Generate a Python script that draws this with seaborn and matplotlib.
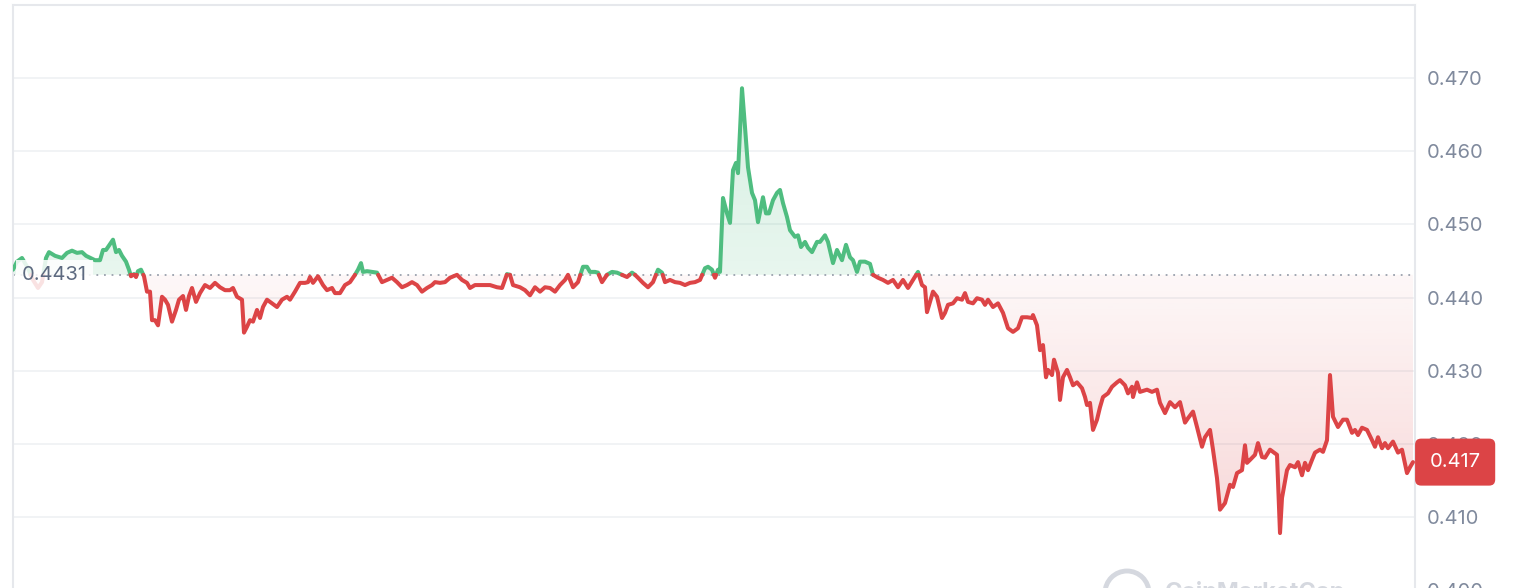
import numpy as np
import pandas as pd
import seaborn as sns
import matplotlib.pyplot as plt
import matplotlib.transforms as mtransforms
from matplotlib.patches import Ellipse

# minutes from the left edge of the chart, and price in USD
minutes = [
    0, 4, 9, 15, 20, 25, 29, 33, 36, 42, 49, 54, 59, 64, 69, 73, 82, 87, 90, 93,
    97, 100, 103, 106, 109, 113, 116, 118, 121, 123, 125, 128, 131, 134, 137, 139, 142, 145, 149, 152,
    155, 159, 163, 166, 170, 173, 176, 179, 183, 187, 192, 197, 202, 207, 212, 217, 220, 224, 229, 231,
    234, 237, 240, 244, 247, 250, 254, 259, 264, 269, 274, 277, 282, 287, 292, 295, 297, 300, 305, 310,
    314, 319, 322, 327, 332, 337, 342, 345, 348, 350, 354, 359, 364, 369, 374, 379, 384, 389, 394, 399,
    404, 409, 414, 419, 422, 427, 432, 437, 444, 449, 454, 457, 462, 467, 472, 477, 484, 489, 494, 497,
    500, 507, 512, 517, 522, 527, 532, 537, 542, 547, 552, 555, 560, 565, 570, 574, 577, 582, 585, 589,
    594, 599, 604, 609, 614, 619, 622, 625, 630, 635, 640, 645, 649, 652, 657, 662, 667, 672, 677, 682,
    687, 692, 695, 699, 702, 705, 707, 710, 714, 717, 720, 723, 725, 729, 732, 735, 739, 742, 745, 750,
    753, 756, 760, 764, 767, 770, 774, 777, 782, 785, 788, 792, 795, 799, 804, 807, 812, 815, 820, 824,
    829, 833, 837, 840, 844, 847, 852, 857, 860, 865, 870, 875, 880, 885, 890, 895, 900, 905, 909, 912,
    914, 917, 920, 924, 929, 932, 935, 940, 944, 949, 952, 955, 960, 964, 969, 972, 975, 980, 985, 990,
    995, 1000, 1005, 1009, 1014, 1019, 1020, 1024, 1027, 1030, 1033, 1035, 1039, 1041, 1045, 1047, 1050, 1054, 1057, 1060,
    1064, 1069, 1072, 1074, 1077, 1080, 1084, 1087, 1090, 1095, 1099, 1104, 1107, 1112, 1115, 1119, 1120, 1124, 1127, 1134,
    1139, 1144, 1147, 1152, 1157, 1162, 1167, 1172, 1175, 1180, 1184, 1189, 1192, 1197, 1200, 1204, 1207, 1212, 1217, 1220,
    1224, 1229, 1232, 1234, 1237, 1242, 1245, 1249, 1252, 1257, 1260, 1264, 1267, 1269, 1274, 1277, 1282, 1285, 1289, 1292,
    1295, 1299, 1302, 1307, 1310, 1314, 1317, 1320, 1325, 1330, 1334, 1339, 1342, 1345, 1349, 1354, 1359, 1362, 1365, 1369,
    1372, 1375, 1380, 1385, 1389, 1394, 1397, 1400,
]
prices = [
    0.4438, 0.4449, 0.4454, 0.4440, 0.4424, 0.4413, 0.4421, 0.4454, 0.4462, 0.4457, 0.4454, 0.4461, 0.4464, 0.4461, 0.4462, 0.4457, 0.4451, 0.4451, 0.4465, 0.4465,
    0.4473, 0.4479, 0.4462, 0.4465, 0.4457, 0.4449, 0.4438, 0.4429, 0.4432, 0.4428, 0.4436, 0.4438, 0.4429, 0.4408, 0.4408, 0.4369, 0.4369, 0.4362, 0.4401, 0.4397,
    0.4390, 0.4367, 0.4383, 0.4397, 0.4402, 0.4383, 0.4402, 0.4413, 0.4394, 0.4406, 0.4417, 0.4413, 0.4420, 0.4414, 0.4410, 0.4410, 0.4413, 0.4401, 0.4397, 0.4352,
    0.4360, 0.4369, 0.4367, 0.4383, 0.4372, 0.4387, 0.4397, 0.4392, 0.4387, 0.4397, 0.4401, 0.4397, 0.4408, 0.4420, 0.4420, 0.4421, 0.4428, 0.4420, 0.4429, 0.4417,
    0.4410, 0.4413, 0.4406, 0.4406, 0.4417, 0.4421, 0.4431, 0.4438, 0.4447, 0.4435, 0.4436, 0.4435, 0.4434, 0.4421, 0.4424, 0.4427, 0.4421, 0.4414, 0.4417, 0.4421,
    0.4417, 0.4408, 0.4413, 0.4417, 0.4421, 0.4420, 0.4421, 0.4427, 0.4431, 0.4424, 0.4420, 0.4413, 0.4417, 0.4417, 0.4417, 0.4417, 0.4414, 0.4413, 0.4432, 0.4431,
    0.4417, 0.4414, 0.4410, 0.4403, 0.4414, 0.4408, 0.4414, 0.4413, 0.4408, 0.4417, 0.4424, 0.4431, 0.4414, 0.4421, 0.4442, 0.4442, 0.4435, 0.4435, 0.4434, 0.4421,
    0.4431, 0.4435, 0.4434, 0.4431, 0.4428, 0.4434, 0.4431, 0.4427, 0.4420, 0.4414, 0.4421, 0.4438, 0.4434, 0.4421, 0.4424, 0.4421, 0.4420, 0.4417, 0.4420, 0.4421,
    0.4424, 0.4440, 0.4442, 0.4438, 0.4427, 0.4438, 0.4435, 0.4536, 0.4515, 0.4502, 0.4574, 0.4584, 0.4570, 0.4686, 0.4633, 0.4578, 0.4543, 0.4533, 0.4503, 0.4537,
    0.4515, 0.4515, 0.4533, 0.4543, 0.4547, 0.4529, 0.4510, 0.4492, 0.4483, 0.4485, 0.4469, 0.4476, 0.4468, 0.4462, 0.4476, 0.4476, 0.4485, 0.4476, 0.4447, 0.4465,
    0.4451, 0.4472, 0.4455, 0.4451, 0.4435, 0.4449, 0.4449, 0.4446, 0.4431, 0.4427, 0.4424, 0.4420, 0.4424, 0.4414, 0.4424, 0.4413, 0.4424, 0.4435, 0.4417, 0.4414,
    0.4380, 0.4394, 0.4408, 0.4401, 0.4372, 0.4379, 0.4390, 0.4392, 0.4399, 0.4397, 0.4406, 0.4394, 0.4392, 0.4399, 0.4397, 0.4390, 0.4397, 0.4387, 0.4392, 0.4379,
    0.4358, 0.4353, 0.4358, 0.4373, 0.4373, 0.4372, 0.4376, 0.4362, 0.4328, 0.4335, 0.4291, 0.4301, 0.4294, 0.4315, 0.4297, 0.4260, 0.4291, 0.4301, 0.4291, 0.4280,
    0.4284, 0.4276, 0.4264, 0.4253, 0.4256, 0.4219, 0.4233, 0.4250, 0.4264, 0.4269, 0.4278, 0.4284, 0.4287, 0.4280, 0.4269, 0.4278, 0.4264, 0.4284, 0.4271, 0.4274,
    0.4271, 0.4274, 0.4256, 0.4242, 0.4257, 0.4250, 0.4257, 0.4229, 0.4235, 0.4244, 0.4223, 0.4196, 0.4209, 0.4219, 0.4192, 0.4153, 0.4110, 0.4119, 0.4144, 0.4141,
    0.4160, 0.4164, 0.4198, 0.4174, 0.4178, 0.4185, 0.4201, 0.4182, 0.4181, 0.4192, 0.4189, 0.4185, 0.4078, 0.4126, 0.4164, 0.4171, 0.4168, 0.4175, 0.4157, 0.4174,
    0.4164, 0.4178, 0.4188, 0.4192, 0.4189, 0.4205, 0.4294, 0.4237, 0.4223, 0.4233, 0.4233, 0.4215, 0.4219, 0.4212, 0.4222, 0.4219, 0.4205, 0.4196, 0.4209, 0.4194,
    0.4201, 0.4194, 0.4203, 0.4188, 0.4192, 0.4160, 0.4168, 0.4175,
]
open_price = 0.4431
last_label = "0.417"
y_ticks = [0.400, 0.410, 0.420, 0.430, 0.440, 0.450, 0.460, 0.470]

GREEN = "#4fbd80"
RED = "#dc4446"

# split the series into runs above / below the opening price,
# adding the crossing point to both neighbouring runs
rows = []
seg = 0
prev_side = "up" if prices[0] > open_price else "down"
rows.append((minutes[0], prices[0], seg, prev_side))
for i in range(1, len(prices)):
    side = "up" if prices[i] > open_price else "down"
    if side != prev_side:
        t0, t1, p0, p1 = minutes[i - 1], minutes[i], prices[i - 1], prices[i]
        tc = t0 + (open_price - p0) * (t1 - t0) / (p1 - p0)
        rows.append((tc, open_price, seg, prev_side))
        seg += 1
        rows.append((tc, open_price, seg, side))
    rows.append((minutes[i], prices[i], seg, side))
    prev_side = side
df = pd.DataFrame(rows, columns=["t", "price", "seg", "side"])

sns.set_theme(style="white")
plt.rcParams["font.family"] = ["Inter", "DejaVu Sans"]

fig = plt.figure(figsize=(15.26, 5.88), dpi=100)
ax = fig.add_axes([13 / 1526, -20 / 588, 1402 / 1526, 603 / 588])

x_max = 1402
y_lo, y_hi = 0.39756, 0.47998

# gradient fills clipped to the area between the line and the open price
tt = df["t"].to_numpy()
pp = df["price"].to_numpy()
up_poly = ax.fill_between(tt, open_price, np.maximum(pp, open_price), color="none", lw=0)
dn_poly = ax.fill_between(tt, open_price, np.minimum(pp, open_price), color="none", lw=0)

n = 256
g = np.zeros((n, 1, 4))
g[..., :3] = np.array([0x4f, 0xbd, 0x80]) / 255
g[:, 0, 3] = np.linspace(0.28, 0.13, n)
img = ax.imshow(g, extent=[0, x_max, open_price, y_hi], aspect="auto", zorder=1)
img.set_clip_path(up_poly.get_paths()[0], transform=ax.transData)

r = np.zeros((n, 1, 4))
r[..., :3] = np.array([0xdc, 0x44, 0x46]) / 255
r[:, 0, 3] = np.linspace(0.04, 0.26, n)
img2 = ax.imshow(r, extent=[0, x_max, y_lo, open_price], aspect="auto", zorder=1)
img2.set_clip_path(dn_poly.get_paths()[0], transform=ax.transData)

ax.axhline(open_price, color="#9aa1ad", lw=1.3, ls=(0, (1, 3.2)), zorder=2)

sns.lineplot(data=df, x="t", y="price", hue="side", units="seg", estimator=None,
             sort=False, palette={"up": GREEN, "down": RED}, linewidth=2.9,
             legend=False, ax=ax, zorder=3)

ax.set_xlim(0, x_max)
ax.set_ylim(y_lo, y_hi)
ax.set_xlabel("")
ax.set_ylabel("")
ax.set_xticks([])
ax.set_yticks(y_ticks)
ax.set_yticklabels([f"{v:.3f}" for v in y_ticks])
ax.yaxis.tick_right()
ax.tick_params(axis="y", length=0, pad=8.5, labelsize=14.5, labelcolor="#808a9d")
ax.grid(axis="y", color="#eff1f4", lw=1.2)
ax.set_axisbelow(True)
for name, sp in ax.spines.items():
    sp.set_color("#e6e8ec")
    sp.set_linewidth(1.5)
ax.spines["bottom"].set_visible(False)

# opening price tag on the left
ax.text(9, open_price, f"{open_price:.4f}", ha="left", va="center", fontsize=14.5,
        color="#5d6a80", zorder=5,
        bbox=dict(boxstyle="square,pad=0.3", fc="white", ec="none", alpha=0.85))

# last price tag on the right
trans = mtransforms.blended_transform_factory(ax.transAxes, ax.transData)
ax.annotate(last_label, xy=(1.0, prices[-1]), xycoords=trans, xytext=(10.5, 0),
            textcoords="offset points", ha="left", va="center", fontsize=14.5,
            color="white", annotation_clip=False, zorder=6,
            bbox=dict(boxstyle="round,pad=0.72,rounding_size=0.3", fc=RED, ec="none"))

# faint watermark, mostly cut off at the bottom edge
fig.patches.append(Ellipse((1127 / 1526, 1 - 593 / 588), 44 / 1526, 44 / 588,
                           transform=fig.transFigure, fill=False, ec="#d5d8df", lw=3.5))
fig.text(1165 / 1526, 1 - 599 / 588, "CoinMarketCap", fontsize=17, fontweight="bold",
         color="#d5d8df", ha="left", va="baseline")

fig.savefig("out.png", dpi=100, facecolor="white")
